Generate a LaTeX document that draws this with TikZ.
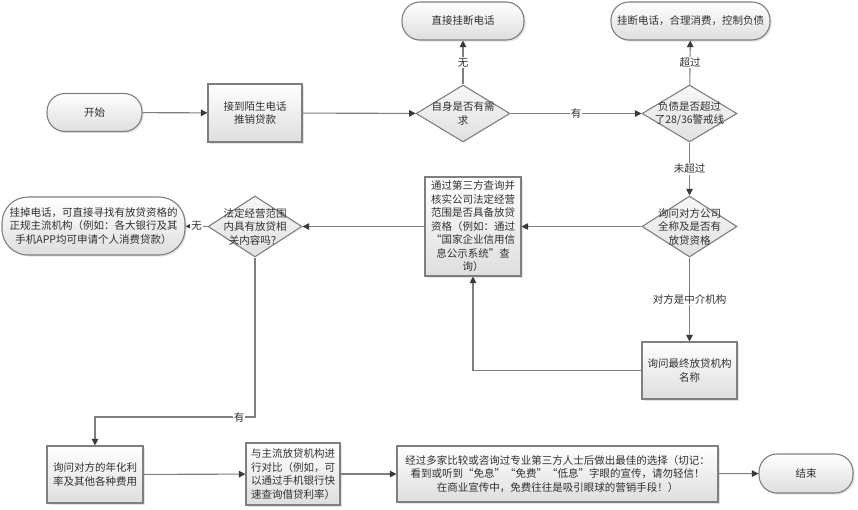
\documentclass[tikz,border=0pt]{standalone}
\usepackage{fontspec}
\setmainfont{Noto Sans CJK SC}
\usetikzlibrary{shapes.geometric,arrows.meta,shadows}
\definecolor{ln}{HTML}{7F7F7F}
\definecolor{tx}{HTML}{303030}
\definecolor{ah}{HTML}{3A3A3A}
\begin{document}
\begin{tikzpicture}[x=1pt,y=1pt,
  every node/.style={font=\fontsize{10.5}{13.5}\selectfont, text=tx},
  base/.style={draw=ln, line width=1.1pt, inner sep=0pt, align=center},
  shd/.style={drop shadow={opacity=0.22, shadow xshift=1.6pt, shadow yshift=-1.6pt}},
  boxs/.style={base, rectangle, top color=white, bottom color=black!13, shd},
  term/.style={base, rectangle, top color=white, bottom color=black!13, shd},
  dec/.style={base, diamond, top color=black!3, bottom color=black!12},
  conn/.style={draw=ln, line width=1.1pt, -{Triangle[length=6.5pt,width=6.5pt,color=ah]}},
  lbl/.style={fill=white, inner sep=1pt, text=tx}
]
\useasboundingbox (0,0) rectangle (858,-509);

% terminals
\node[term, rounded corners=18pt, minimum width=95pt, minimum height=38pt] (start) at (94.5,-112.5) {开始};
\node[term, rounded corners=18pt, minimum width=122pt, minimum height=38pt] (t1) at (463,-21) {直接挂断电话};
\node[term, rounded corners=18pt, minimum width=159pt, minimum height=38pt] (t2) at (690.5,-21) {挂断电话，合理消费，控制负债};
\node[term, rounded corners=26pt, minimum width=183pt, minimum height=58pt] (t3) at (93.5,-226) {挂掉电话，可直接寻找有放贷资格的\\正规主流机构（例如：各大银行及其\\手机APP均可申请个人消费贷款）};
\node[term, rounded corners=18pt, minimum width=94pt, minimum height=39pt] (end) at (806,-473.5) {结束};

% boxes
\node[boxs, minimum width=94pt, minimum height=58pt] (b1) at (255,-113) {接到陌生电话\\推销贷款};
\node[boxs, minimum width=96pt, minimum height=99pt] (b2) at (473,-226.5) {通过第三方查询并\\核实公司法定经营\\范围是否具备放贷\\资格（例如：通过\\“国家企业信用信\\息公示系统”查\\询）};
\node[boxs, minimum width=95pt, minimum height=57pt] (b3) at (689.5,-370.5) {询问最终放贷机构\\名称};
\node[boxs, minimum width=96pt, minimum height=57pt] (b4) at (95,-474.5) {询问对方的年化利\\率及其他各种费用};
\node[boxs, minimum width=94pt, minimum height=62pt, align=left] (b5) at (293,-474) {与主流放贷机构进\\行对比（例如，可\\以通过手机银行快\\速查询借贷利率）};
\node[boxs, minimum width=321pt, minimum height=56pt] (b6) at (557.5,-474) {经过多家比较或咨询过专业第三方人士后做出最佳的选择（切记：\\看到或听到“免息”“免费”“低息”字眼的宣传，请勿轻信！\\在商业宣传中，免费往往是吸引眼球的营销手段！）};

% decisions
\node[dec, minimum width=94pt, minimum height=57pt, label={[align=center]center:{自身是否有需\\求}}] (d1) at (463,-113.5) {};
\node[dec, minimum width=95pt, minimum height=57pt, label={[align=center]center:{负债是否超过\\了28/36警戒线}}] (d2) at (689.5,-113.5) {};
\node[dec, minimum width=95pt, minimum height=61pt, label={[align=center]center:{询问对方公司\\全称及是否有\\放贷资格}}] (d3) at (689.5,-226.5) {};
\node[dec, minimum width=94pt, minimum height=61pt, label={[align=center]center:{法定经营范围\\内具有放贷相\\关内容吗？}}] (d4) at (255,-226.5) {};

\coordinate (k) at (95,-417);

% connectors
\draw[conn] (start) -- (b1);
\draw[conn] (b1) -- (d1);
\draw[conn] (d1) -- node[lbl]{无} (t1);
\draw[conn] (d1) -- node[lbl]{有} (d2);
\draw[conn] (d2) -- node[lbl]{超过} (t2);
\draw[conn] (d2) -- node[lbl]{未超过} (d3);
\draw[conn] (d3) -- (b2);
\draw[conn] (d3) -- node[lbl]{对方是中介机构} (b3);
\draw[conn] (b3.west) -| (b2.south);
\draw[conn] (b2) -- (d4);
\draw[conn] (d4) -- node[lbl]{无} (t3);
\draw[conn] (d4.south) |- node[lbl, pos=0.55]{有} (k) -- (b4.north);
\draw[conn] (b4) -- (b5);
\draw[conn] (b5) -- (b6);
\draw[conn] (b6) -- (end);
\end{tikzpicture}
\end{document}
